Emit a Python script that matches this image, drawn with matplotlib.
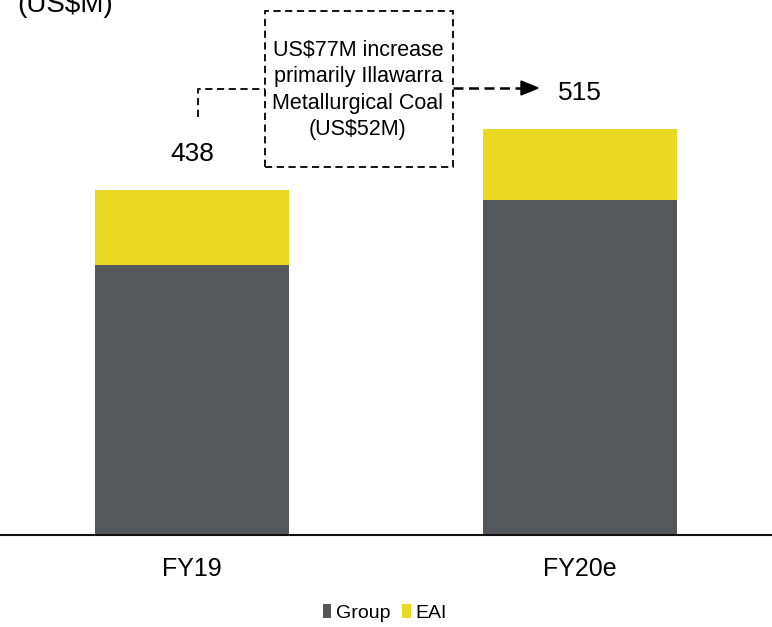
import matplotlib.pyplot as plt
from matplotlib.patches import Rectangle, Polygon

plt.rcParams['font.family'] = ['Liberation Sans', 'DejaVu Sans']

years = ["FY19", "FY20e"]
group = [343, 425]
eai = [95, 90]
totals = [438, 515]

W, H = 772, 627
GREY = "#55585b"
YELLOW = "#e9d922"


def px(x, y):
    # pixel (from top-left) -> figure fraction
    return x / W, 1 - y / H


fig = plt.figure(figsize=(W / 100, H / 100), dpi=100)
ax = fig.add_axes([0, 1 - 535 / H, 1, 535 / H])

xs = list(range(len(years)))
ax.bar(xs, group, width=0.5, color=GREY, label="Group")
ax.bar(xs, eai, width=0.5, bottom=group, color=YELLOW, label="EAI")

for x, t in zip(xs, totals):
    ax.annotate(str(t), (x, t), xytext=(0, 26), textcoords="offset points",
                ha="center", va="center", fontsize=19)

ax.set_xlim(-0.4948, 1.4948)
ax.set_ylim(0, 679)
ax.set_xticks(xs)
ax.set_xticklabels(years, fontsize=18)
ax.tick_params(axis="x", length=0, pad=16)
ax.set_yticks([])
for s in ["top", "right", "left"]:
    ax.spines[s].set_visible(False)
ax.spines["bottom"].set_linewidth(1.5)
ax.spines["bottom"].set_color("#111111")

# unit label, cut at the top
fig.text(*px(17, 12), "(US$M)", fontsize=20, ha="left", va="baseline")

# dashed annotation box
bx0, by0 = px(265, 167)
bx1, by1 = px(453, 11)
box = Rectangle((bx0, by0), bx1 - bx0, by1 - by0, transform=fig.transFigure,
                fill=False, ec="black", lw=1.3, ls=(0, (4, 2.5)))
fig.add_artist(box)
fig.text(*px(358, 90), "US$77M increase\nprimarily Illawarra\nMetallurgical Coal\n(US$52M)",
         ha="center", va="center", fontsize=15.5, linespacing=1.34)

# connector from FY19 label to box
pts = [px(198, 117), px(198, 89), px(265, 89)]
fig.add_artist(plt.Line2D([p[0] for p in pts], [p[1] for p in pts], transform=fig.transFigure,
                          color="black", lw=1.3, ls=(0, (4, 2.5))))

# arrow from box to FY20e label
a0, a1 = px(453, 88), px(523, 88)
fig.add_artist(plt.Line2D([a0[0], a1[0]], [a0[1], a1[1]], transform=fig.transFigure,
                          color="black", lw=1.8, ls=(0, (4, 2.2))))
fig.add_artist(Polygon([px(521, 81), px(538, 88), px(521, 95)], closed=True,
                       transform=fig.transFigure, color="black"))

fig.legend(loc="center", bbox_to_anchor=px(385, 613), ncol=2, frameon=False,
           fontsize=14, handlelength=0.42, handleheight=0.68, handletextpad=0.25,
           columnspacing=0.6, borderpad=0)

fig.savefig("out.png", dpi=100)
